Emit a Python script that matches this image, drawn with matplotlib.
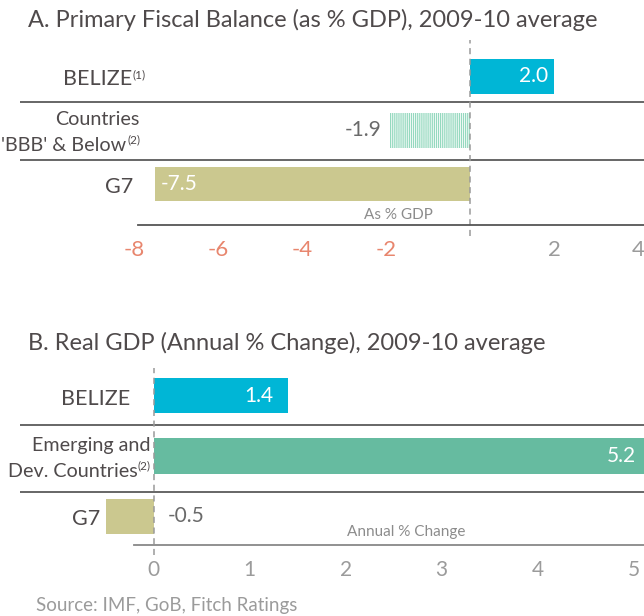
import matplotlib
matplotlib.use("Agg")
import matplotlib.pyplot as plt
from matplotlib.transforms import blended_transform_factory

plt.rcParams['font.family'] = ['Lato', 'DejaVu Sans']
plt.rcParams['hatch.linewidth'] = 0.9

# panel A data
cats_a = ["BELIZE", "Countries\n'BBB' & Below", "G7"]
notes_a = ["(1)", "(2)", ""]
vals_a = [2.0, -1.9, -7.5]
ticks_a = [-8, -6, -4, -2, 2, 4]

# panel B data
cats_b = ["BELIZE", "Emerging and\nDev. Countries", "G7"]
notes_b = ["", "(2)", ""]
vals_b = [1.4, 5.2, -0.5]
ticks_b = [0, 1, 2, 3, 4, 5]

W, H = 644, 616
fig = plt.figure(figsize=(W / 100, H / 100), dpi=100)

c_belize = '#00b6d6'
c_emerg = '#66bba0'
c_g7 = '#cbc88f'
c_hatch = '#95d9bf'
c_text = '#4f4a4b'
c_grey = '#9b9b9b'


def box(top, bottom):
    # pixel rows -> figure fraction
    return [20 / W, 1 - bottom / H, 624 / W, (bottom - top) / H]


axA = fig.add_axes(box(40, 225))
axB = fig.add_axes(box(368, 544.5))

fig.text(28 / W, 1 - 20 / H, "A. Primary Fiscal Balance (as % GDP), 2009-10 average",
         fontsize=17, color=c_text, va='center', ha='left')
fig.text(28 / W, 1 - 343 / H, "B. Real GDP (Annual % Change), 2009-10 average",
         fontsize=17, color=c_text, va='center', ha='left')
fig.text(36 / W, 1 - 606 / H, "Source: IMF, GoB, Fitch Ratings",
         fontsize=13.5, color=c_grey, va='center', ha='left')

# ---- panel A
axA.set_xlim(-10.714, 4.143)
axA.set_ylim(2.763, -0.679)
axA.barh(0, vals_a[0], height=0.65, color=c_belize)
axA.barh(1, vals_a[1], height=0.65, color='white', edgecolor=c_hatch, hatch='||||||||', linewidth=0)
axA.barh(2, vals_a[2], height=0.65, color=c_g7)

# ---- panel B
axB.set_xlim(-1.392, 5.108)
axB.set_ylim(2.463, -0.455)
axB.barh(0, vals_b[0], height=0.59, color=c_belize)
axB.barh(1, vals_b[1], height=0.59, color=c_emerg)
axB.barh(2, vals_b[2], height=0.59, color=c_g7)

for ax, ticks, seps in [(axA, ticks_a, (0.474, 1.553)), (axB, ticks_b, (0.488, 1.595))]:
    for s in ['top', 'left', 'right']:
        ax.spines[s].set_visible(False)
    ax.set_yticks([])
    ax.set_xticks(ticks)
    ax.set_xticklabels([str(t) for t in ticks])
    ax.tick_params(axis='x', length=0, pad=11, labelsize=16)
    ax.patch.set_alpha(0)
    for s in seps:
        ax.axhline(s, color='#5a5a5a', lw=1.3)
    ax.axvline(0, ymin=-0.06, ymax=1, color='#9a9a9a', lw=1.1, ls=(0, (4, 3)), clip_on=False)

axA.spines['bottom'].set_color('#555555')
axA.spines['bottom'].set_linewidth(1.3)
axA.spines['bottom'].set_bounds(-7.9, 4.143)
for t, lab in zip(ticks_a, axA.get_xticklabels()):
    lab.set_color('#e8866e' if t < 0 else c_grey)

axB.spines['bottom'].set_color('#888888')
axB.spines['bottom'].set_linewidth(1.3)
axB.spines['bottom'].set_bounds(-0.2, 5.108)
axB.tick_params(axis='x', labelsize=15, labelcolor=c_grey)

axA.text(-1.7, 2.58, "As % GDP", fontsize=11, color='#8c8c8c', ha='center', va='center')
axB.text(2.63, 2.25, "Annual % Change", fontsize=11, color='#8c8c8c', ha='center', va='center')

# ---- value labels
def vlabel(ax, x, y, txt, dx, ha, color):
    ax.annotate(txt, (x, y), xytext=(dx, 0), textcoords='offset pixels',
                ha=ha, va='center', fontsize=15, color=color, annotation_clip=False)

vlabel(axA, vals_a[0], 0, "%.1f" % vals_a[0], -6, 'right', 'white')
vlabel(axA, vals_a[1], 1, "%.1f" % vals_a[1], -9, 'right', '#6a6a6a')
vlabel(axA, vals_a[2], 2, "%.1f" % vals_a[2], 6, 'left', 'white')
vlabel(axB, vals_b[0], 0, "%.1f" % vals_b[0], -15, 'right', 'white')
vlabel(axB, vals_b[1], 1, "%.1f" % vals_b[1], -17, 'right', 'white')
vlabel(axB, 0, 2, "%.1f" % vals_b[2], 14, 'left', '#6a6a6a')

# ---- category labels
renderer = fig.canvas.get_renderer()


def catlabels(ax, cats, notes, rights):
    tr = blended_transform_factory(fig.transFigure, ax.transData)
    for i, (cat, note) in enumerate(zip(cats, notes)):
        lines = cat.split('\n')
        offs = [-3] if len(lines) == 1 else [11, -15]
        for j, (line, dy) in enumerate(zip(lines, offs)):
            x = rights[i] / W
            w = 0
            if note and j == len(lines) - 1:
                sup = ax.annotate(note, (x, i), xycoords=tr, xytext=(0, dy + 5),
                                  textcoords='offset pixels', ha='right', va='center',
                                  fontsize=8.5, color=c_text, annotation_clip=False)
                w = sup.get_window_extent(renderer).width + 0.5
            size = 15.5 if len(lines) == 1 else 14.2
            ax.annotate(line, (x, i), xycoords=tr, xytext=(-w, dy),
                        textcoords='offset pixels', ha='right', va='center',
                        fontsize=size, color=c_text, annotation_clip=False)


catlabels(axA, cats_a, notes_a, [146, 140, 133])
catlabels(axB, cats_b, notes_b, [130, 151, 100])

fig.savefig("out.png", dpi=100)
